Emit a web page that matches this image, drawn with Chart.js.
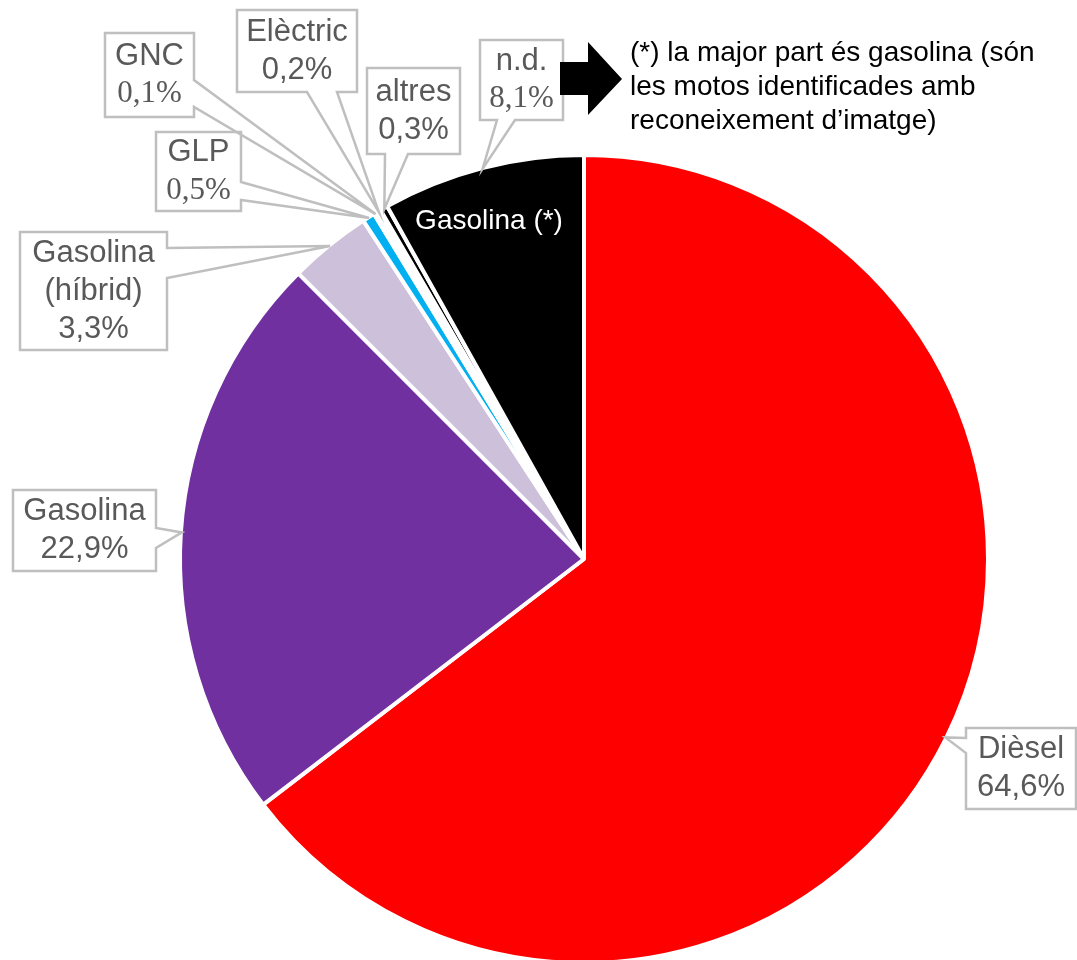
<!DOCTYPE html>
<html>
<head>
<meta charset="utf-8">
<script src="https://cdn.jsdelivr.net/npm/chart.js@4.4.1/dist/chart.umd.min.js"></script>
<style>
    html, body { margin: 0; padding: 0; background: #fff; overflow: hidden; }
    #wrap { width: 1077px; height: 960px; overflow: hidden; }
</style>
</head>
<body>
<div id="wrap"><canvas id="fuelChart" width="1077" height="967"></canvas></div>
<script>
const categories = ['Dièsel', 'Gasolina', 'Gasolina (híbrid)', 'GLP', 'GNC', 'Elèctric', 'altres', 'n.d.'];
const shares = [64.6, 22.9, 3.3, 0.5, 0.1, 0.2, 0.3, 8.1];
const sliceColors = ['#ff0000', '#7030a0', '#ccc0da', '#00b0f0', '#ffffff', '#ffffff', '#000000', '#000000'];
const labelLines = [['Dièsel'], ['Gasolina'], ['Gasolina', '(híbrid)'], ['GLP'], ['GNC'], ['Elèctric'], ['altres'], ['n.d.']];
const innerLabel = 'Gasolina (*)';
const noteLines = ['(*) la major part és gasolina (són', 'les motos identificades amb', 'reconeixement d’imatge)'];

const SANS = '"Liberation Sans", Arial, sans-serif';
const SERIF = '"Liberation Serif", "Times New Roman", serif';

// callout boxes (index of slice -> box + where the pointer leaves the box)
const callouts = {
    0: { x: 966, y: 728, w: 110, h: 81, side: 'left', a: 738, b: 753 },
    1: { x: 13, y: 490, w: 143, h: 81, side: 'right', a: 528, b: 548 },
    2: { x: 20, y: 232, w: 147, h: 118, side: 'right', a: 248, b: 278 },
    3: { x: 156, y: 132, w: 85, h: 79, side: 'right', a: 182, b: 200, serif: true },
    4: { x: 105, y: 33, w: 89, h: 84, side: 'right', a: 80, b: 107, serif: true },
    5: { x: 237, y: 10, w: 120, h: 82, side: 'bottom', a: 307, b: 337 },
    6: { x: 367, y: 68, w: 93, h: 86, side: 'bottom', a: 385, b: 408 },
    7: { x: 480, y: 40, w: 83, h: 80, side: 'bottom', a: 497, b: 515, serif: true }
};

function calloutPath(ctx, c, tx, ty) {
    const { x, y, w, h, side, a, b } = c;
    ctx.beginPath();
    ctx.moveTo(x, y);
    ctx.lineTo(x + w, y);
    if (side === 'right') {
        ctx.lineTo(x + w, a);
        ctx.lineTo(tx, ty);
        ctx.lineTo(x + w, b);
    }
    ctx.lineTo(x + w, y + h);
    if (side === 'bottom') {
        ctx.lineTo(b, y + h);
        ctx.lineTo(tx, ty);
        ctx.lineTo(a, y + h);
    }
    ctx.lineTo(x, y + h);
    if (side === 'left') {
        ctx.lineTo(x, b);
        ctx.lineTo(tx, ty);
        ctx.lineTo(x, a);
    }
    ctx.closePath();
}

const pieLabels = {
    id: 'pieLabels',
    afterDatasetsDraw(chart) {
        const { ctx } = chart;
        const arcs = chart.getDatasetMeta(0).data;
        ctx.save();

        arcs.forEach((arc, i) => {
            const c = callouts[i];
            if (!c) return;
            const p = arc.getProps(['x', 'y', 'startAngle', 'endAngle', 'outerRadius'], true);
            const mid = (p.startAngle + p.endAngle) / 2;
            const r = p.outerRadius - 1;
            const tx = p.x + Math.cos(mid) * r;
            const ty = p.y + Math.sin(mid) * r;

            ctx.strokeStyle = '#bfbfbf';
            ctx.lineWidth = 2.5;
            ctx.lineJoin = 'miter';
            calloutPath(ctx, c, tx, ty);
            ctx.stroke();

            const lines = labelLines[i].concat([shares[i].toFixed(1).replace('.', ',') + '%']);
            const lh = 38;
            let cy = c.y + (c.h - (lines.length - 1) * lh) / 2;
            ctx.fillStyle = '#595959';
            ctx.textAlign = 'center';
            ctx.textBaseline = 'middle';
            lines.forEach((t, k) => {
                const isPct = k === lines.length - 1;
                ctx.font = (isPct && c.serif) ? '31px ' + SERIF : '31px ' + SANS;
                ctx.fillText(t, c.x + c.w / 2, cy + k * lh);
            });
        });

        // label inside the n.d. slice
        const nd = arcs[7].getProps(['x', 'y', 'startAngle', 'endAngle', 'outerRadius'], true);
        const m = (nd.startAngle + nd.endAngle) / 2;
        ctx.fillStyle = '#ffffff';
        ctx.font = '28px ' + SANS;
        ctx.textAlign = 'center';
        ctx.textBaseline = 'middle';
        ctx.fillText(innerLabel, nd.x + Math.cos(m) * nd.outerRadius * 0.865 - 7, nd.y + Math.sin(m) * nd.outerRadius * 0.865);

        // arrow + note
        ctx.fillStyle = '#000000';
        ctx.beginPath();
        ctx.moveTo(560, 62);
        ctx.lineTo(588, 62);
        ctx.lineTo(588, 42);
        ctx.lineTo(622, 79);
        ctx.lineTo(588, 115);
        ctx.lineTo(588, 95);
        ctx.lineTo(560, 95);
        ctx.closePath();
        ctx.fill();

        ctx.font = '28px ' + SANS;
        ctx.textAlign = 'left';
        ctx.textBaseline = 'middle';
        noteLines.forEach((t, k) => ctx.fillText(t, 630, 53 + k * 34));

        ctx.restore();
    }
};

new Chart(document.getElementById('fuelChart'), {
    type: 'pie',
    data: {
        labels: categories,
        datasets: [{
            data: shares,
            backgroundColor: sliceColors,
            borderColor: '#ffffff',
            borderWidth: 4
        }]
    },
    options: {
        responsive: false,
        animation: false,
        layout: {
            padding: { left: 178, right: 87, top: 153, bottom: 2 }
        },
        plugins: {
            legend: { display: false },
            tooltip: { enabled: false }
        }
    },
    plugins: [pieLabels]
});
</script>
</body>
</html>
